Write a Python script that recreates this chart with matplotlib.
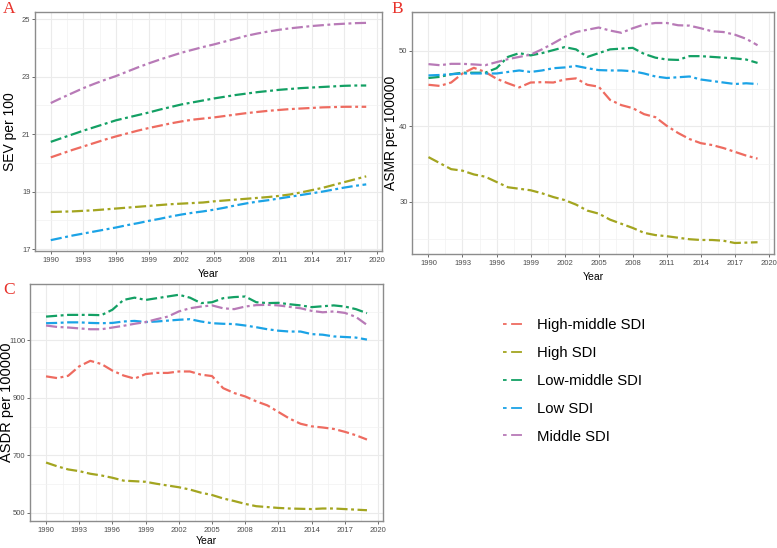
import matplotlib
matplotlib.use("Agg")
import matplotlib.pyplot as plt
from matplotlib.lines import Line2D

plt.rcParams['font.family'] = ['Liberation Sans', 'DejaVu Sans']

years = list(range(1990, 2020))
groups = ["High-middle SDI", "High SDI", "Low-middle SDI", "Low SDI", "Middle SDI"]
colors = ["#EE6B60", "#A3A520", "#13A064", "#1BA3E6", "#B87AB7"]

# Panel A: SEV per 100
sev_high_middle = [20.19, 20.32, 20.45, 20.57, 20.69, 20.81, 20.92, 21.02, 21.12, 21.21,
                   21.29, 21.37, 21.44, 21.50, 21.54, 21.58, 21.63, 21.68, 21.73, 21.77,
                   21.81, 21.84, 21.87, 21.89, 21.91, 21.93, 21.94, 21.95, 21.95, 21.95]
sev_high = [18.29, 18.30, 18.31, 18.33, 18.35, 18.38, 18.41, 18.44, 18.47, 18.50,
            18.53, 18.56, 18.58, 18.60, 18.62, 18.66, 18.69, 18.72, 18.75, 18.78,
            18.81, 18.85, 18.90, 18.97, 19.05, 19.13, 19.23, 19.33, 19.43, 19.53]
sev_low_middle = [20.73, 20.86, 20.99, 21.12, 21.24, 21.36, 21.48, 21.57, 21.66, 21.75,
                  21.85, 21.94, 22.03, 22.10, 22.17, 22.24, 22.30, 22.36, 22.41, 22.46,
                  22.50, 22.54, 22.57, 22.60, 22.62, 22.64, 22.66, 22.68, 22.69, 22.69]
sev_low = [17.31, 17.39, 17.47, 17.54, 17.61, 17.68, 17.75, 17.83, 17.90, 17.98,
           18.05, 18.13, 18.20, 18.26, 18.31, 18.37, 18.44, 18.52, 18.59, 18.65,
           18.70, 18.76, 18.82, 18.88, 18.94, 19.00, 19.07, 19.14, 19.20, 19.25]
sev_middle = [22.08, 22.26, 22.43, 22.60, 22.75, 22.89, 23.02, 23.17, 23.32, 23.46,
              23.59, 23.71, 23.83, 23.93, 24.03, 24.12, 24.22, 24.32, 24.42, 24.50,
              24.57, 24.63, 24.68, 24.72, 24.76, 24.79, 24.82, 24.84, 24.86, 24.87]

# Panel B: ASMR per 100000
asmr_high_middle = [45.5, 45.35, 45.8, 47.0, 47.75, 47.2, 46.3, 45.7, 45.15, 45.8,
                    45.85, 45.8, 46.2, 46.35, 45.5, 45.25, 43.5, 42.8, 42.4, 41.6,
                    41.2, 40.05, 39.1, 38.3, 37.75, 37.5, 37.1, 36.6, 36.1, 35.7]
asmr_high = [35.9, 35.1, 34.3, 34.1, 33.6, 33.3, 32.6, 31.9, 31.7, 31.5,
             31.1, 30.6, 30.2, 29.6, 28.8, 28.4, 27.6, 27.05, 26.5, 25.85,
             25.55, 25.4, 25.2, 25.0, 24.9, 24.9, 24.8, 24.5, 24.55, 24.6]
asmr_low_middle = [46.4, 46.55, 46.9, 47.1, 47.1, 47.1, 47.7, 49.2, 49.7, 49.4,
                   49.7, 50.1, 50.5, 50.2, 49.2, 49.7, 50.2, 50.3, 50.4, 49.6,
                   49.1, 48.85, 48.8, 49.3, 49.3, 49.2, 49.1, 49.0, 48.85, 48.4]
asmr_low = [46.74, 46.8, 46.9, 47.0, 47.0, 47.0, 47.0, 47.2, 47.4, 47.2,
            47.4, 47.7, 47.8, 48.0, 47.7, 47.45, 47.4, 47.4, 47.3, 47.0,
            46.6, 46.4, 46.5, 46.6, 46.2, 46.0, 45.8, 45.6, 45.7, 45.6]
asmr_middle = [48.24, 48.1, 48.28, 48.28, 48.2, 48.1, 48.5, 48.9, 49.2, 49.5,
               50.2, 51.0, 51.85, 52.5, 52.8, 53.1, 52.7, 52.4, 53.0, 53.5,
               53.7, 53.7, 53.4, 53.35, 53.0, 52.6, 52.5, 52.15, 51.6, 50.75]

# Panel C: ASDR per 100000
asdr_high_middle = [975, 969, 977, 1010, 1029, 1018, 995, 978, 967, 983,
                    987, 987, 992, 992, 981, 976, 934, 917, 905, 888,
                    874, 851, 828, 810, 801, 797, 792, 782, 770, 755]
asdr_high = [675, 662, 651, 645, 636, 630, 622, 612, 610, 608,
             601, 595, 589, 581, 570, 562, 550, 541, 531, 523,
             520, 517, 515, 514, 513, 515, 515, 513, 511, 509]
asdr_low_middle = [1183, 1186, 1189, 1189, 1189, 1188, 1207, 1241, 1249, 1241,
                   1247, 1253, 1259, 1249, 1230, 1233, 1247, 1251, 1253, 1233,
                   1230, 1231, 1226, 1222, 1216, 1219, 1222, 1218, 1209, 1195]
asdr_low = [1160, 1161, 1163, 1163, 1161, 1160, 1161, 1166, 1168, 1164,
            1166, 1169, 1172, 1174, 1166, 1160, 1158, 1157, 1152, 1146,
            1139, 1134, 1131, 1131, 1122, 1120, 1114, 1112, 1110, 1103]
asdr_middle = [1152, 1147, 1145, 1142, 1139, 1139, 1145, 1151, 1158, 1164,
               1174, 1183, 1201, 1212, 1218, 1222, 1212, 1209, 1218, 1223,
               1224, 1222, 1217, 1212, 1203, 1198, 1201, 1196, 1182, 1154]

x_ticks = list(range(1990, 2021, 3))
x_minor = [1991.5 + 3 * i for i in range(10)]

panels = [
    dict(box=(35, 12, 382, 251), letter="A", letter_xy=(3, 1), ylabel="SEV per 100",
         ylabel_x=10, ylabel_size=10, xpad=3.5,
         series=[sev_high_middle, sev_high, sev_low_middle, sev_low, sev_middle],
         yticks=[17, 19, 21, 23, 25], yminor=[18, 20, 22, 24]),
    dict(box=(412, 12, 774, 254), letter="B", letter_xy=(391, 1), ylabel="ASMR per 100000",
         ylabel_x=391, ylabel_size=10, xpad=3.5,
         series=[asmr_high_middle, asmr_high, asmr_low_middle, asmr_low, asmr_middle],
         yticks=[30, 40, 50], yminor=[25, 35, 45, 55]),
    dict(box=(30, 284, 383, 521), letter="C", letter_xy=(3, 282), ylabel="ASDR per 100000",
         ylabel_x=7, ylabel_size=10.5, xpad=1.5,
         series=[asdr_high_middle, asdr_high, asdr_low_middle, asdr_low, asdr_middle],
         yticks=[500, 700, 900, 1100], yminor=[600, 800, 1000, 1200]),
]

W, H = 777, 548
fig = plt.figure(figsize=(W / 100, H / 100), dpi=100)

DASH = (5.0, 1.6, 1.3, 1.6)

for p in panels:
    l, t, r, b = p["box"]
    ax = fig.add_axes([l / W, 1 - b / H, (r - l) / W, (b - t) / H])
    for vals, c in zip(p["series"], colors):
        ax.plot(years, vals, color=c, lw=1.6, dashes=DASH, dash_capstyle="butt")
    ax.margins(x=0.05, y=0.05)
    ax.set_xticks(x_ticks)
    ax.set_xticks(x_minor, minor=True)
    ax.set_yticks(p["yticks"])
    ax.set_yticks(p["yminor"], minor=True)
    ax.grid(which="major", color="#EBEBEB", lw=0.8)
    ax.grid(which="minor", color="#F2F2F2", lw=0.5)
    ax.set_axisbelow(True)
    ax.tick_params(which="major", length=2.0, width=0.6, color="#555555",
                   labelsize=5.5, labelcolor="#4D4D4D", pad=1.2)
    ax.tick_params(axis="x", which="major", pad=2.5)
    ax.tick_params(which="minor", length=0)
    for s in ax.spines.values():
        s.set_color("#8C8C8C")
        s.set_linewidth(1.0)
    ax.set_xlabel("Year", fontsize=7.5, labelpad=p["xpad"])
    ax.set_ylabel(p["ylabel"], fontsize=p["ylabel_size"], va="center")
    ax.yaxis.set_label_coords(p["ylabel_x"] / W, 1 - (t + b) / 2 / H,
                              transform=fig.transFigure)
    lx, ly = p["letter_xy"]
    fig.text(lx / W, 1 - ly / H, p["letter"], color="#E8312A", fontsize=12.5,
             family="Liberation Serif", ha="left", va="top")

handles = [Line2D([], [], color=c, lw=1.3, dashes=(2.0, 2.5, 6.0, 20.0)) for c in colors]
leg = fig.legend(handles, groups, loc="upper left", bbox_to_anchor=(490 / W, 1 - 305 / H),
                 frameon=False, fontsize=10.7, handlelength=1.5, handletextpad=0.75,
                 labelspacing=0.93)

fig.savefig("out.png", dpi=100)
